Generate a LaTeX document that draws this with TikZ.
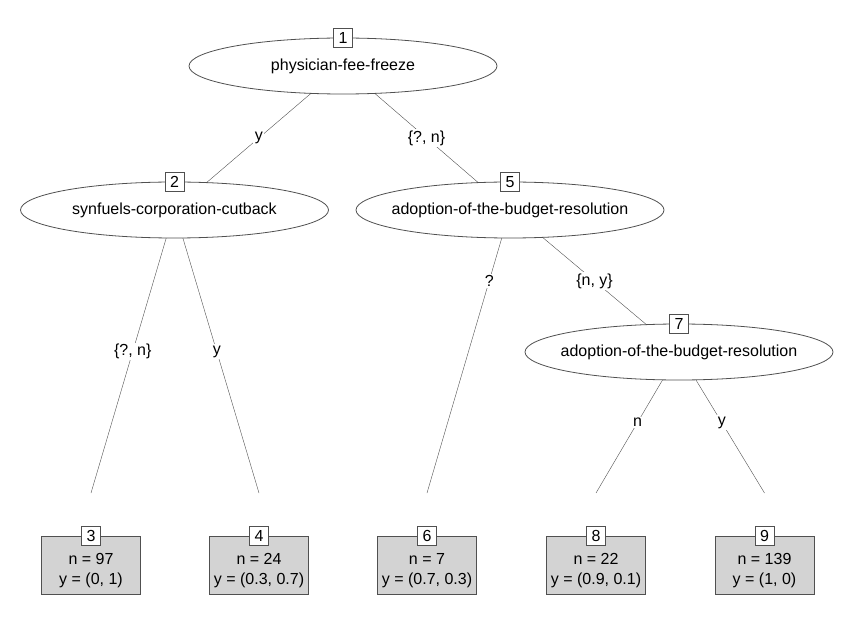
\documentclass[tikz,border=0pt]{standalone}
\usepackage{fontspec}
\setmainfont{Liberation Sans}
\usepackage{xcolor}
\usepackage{tikz}
\usetikzlibrary{shapes.geometric,backgrounds}

\definecolor{darkline}{HTML}{505050}
\definecolor{leafgray}{HTML}{D3D3D3}

\begin{document}
\begin{tikzpicture}[x=1pt, y=-1pt, line width=0.8pt,
		font=\fontsize{16}{20}\selectfont,
		inner/.style={ellipse, draw=darkline, fill=white, minimum width=308pt, minimum height=56pt, inner xsep=-60pt, inner ysep=0pt},
		idbox/.style={draw=darkline, fill=white, minimum size=19pt, inner sep=0pt},
		leaf/.style={draw=darkline, fill=leafgray, minimum width=99pt, minimum height=58pt, inner sep=0pt, align=center},
		lbl/.style={fill=white, inner sep=1.5pt}]
			\useasboundingbox (0, 0) rectangle (851, 620);

			\node [inner] (n1) at (343, 66) {physician-fee-freeze};
			\node [inner] (n2) at (174.5, 210) {synfuels-corporation-cutback};
			\node [inner] (n5) at (510, 210) {adoption-of-the-budget-resolution};
			\node [inner] (n7) at (679, 352) {adoption-of-the-budget-resolution};

			\node [leaf] (l3) at (91, 565) {\rule{0pt}{23pt}n = 97\\y = (0, 1)};
			\node [leaf] (l4) at (259, 565) {\rule{0pt}{23pt}n = 24\\y = (0.3, 0.7)};
			\node [leaf] (l6) at (427, 565) {\rule{0pt}{23pt}n = 7\\y = (0.7, 0.3)};
			\node [leaf] (l8) at (596, 565) {\rule{0pt}{23pt}n = 22\\y = (0.9, 0.1)};
			\node [leaf] (l9) at (764.5, 565) {\rule{0pt}{23pt}n = 139\\y = (1, 0)};

			\coordinate (e3) at (91, 493);
			\coordinate (e4) at (259, 493);
			\coordinate (e6) at (427, 493);
			\coordinate (e8) at (596, 493);
			\coordinate (e9) at (764.5, 493);

			\begin{scope}[on background layer]
				\draw [draw=darkline] (n1.center) -- node [lbl] {y} (n2.center);
				\draw [draw=darkline] (n1.center) -- node [lbl] {\{?, n\}} (n5.center);
				\draw [draw=darkline] (n2.center) -- node [lbl] {\{?, n\}} (e3);
				\draw [draw=darkline] (n2.center) -- node [lbl] {y} (e4);
				\draw [draw=darkline] (n5.center) -- node [lbl, pos=0.25] {?} (e6);
				\draw [draw=darkline] (n5.center) -- node [lbl] {\{n, y\}} (n7.center);
				\draw [draw=darkline] (n7.center) -- node [lbl] {n} (e8);
				\draw [draw=darkline] (n7.center) -- node [lbl] {y} (e9);
			\end{scope}

			\foreach \k in {1, 2, 5, 7}
				\node [idbox] (id\k) at (n\k.north) {\k};
			\foreach \k in {3, 4, 6, 8, 9}
				\node [idbox] (id\k) at (l\k.north) {\k};
		\end{tikzpicture}
\end{document}
